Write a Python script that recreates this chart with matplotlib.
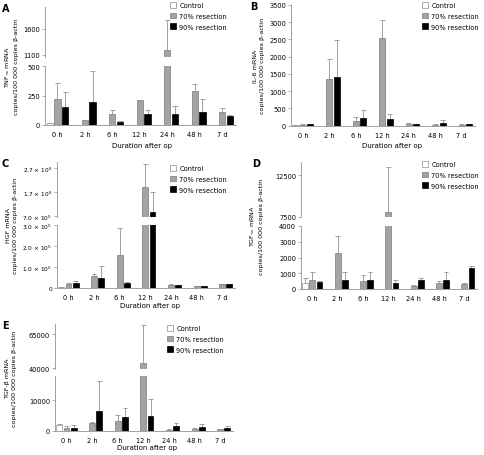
import numpy as np
import matplotlib
matplotlib.use("Agg")
import matplotlib.pyplot as plt
from matplotlib.patches import Patch

plt.rcParams["font.family"] = "DejaVu Sans"

times = ["0 h", "2 h", "6 h", "12 h", "24 h", "48 h", "7 d"]
legend_labels = ["Control", "70% resection", "90% resection"]

# A - TNF-alpha
tnf_ctrl = [14, 0, 0, 0, 0, 0, 0]
tnf_ctrl_err = [4, 0, 0, 0, 0, 0, 0]
tnf_70 = [220, 42, 96, 212, 1200, 291, 108]
tnf_70_err = [133, 0, 34, 0, 580, 56, 33]
tnf_90 = [155, 192, 28, 96, 93, 108, 74]
tnf_90_err = [122, 268, 8, 31, 65, 112, 13]

# B - IL-6
il6_ctrl = [20, 0, 0, 0, 0, 0, 0]
il6_ctrl_err = [8, 0, 0, 0, 0, 0, 0]
il6_70 = [20, 1344, 135, 2543, 58, 29, 29]
il6_70_err = [10, 580, 107, 522, 10, 20, 19]
il6_90 = [40, 1411, 222, 184, 48, 87, 39]
il6_90_err = [8, 1084, 232, 154, 8, 68, 8]

# C - HGF
hgf_ctrl = [4700, 0, 0, 0, 0, 0, 0]
hgf_ctrl_err = [1000, 0, 0, 0, 0, 0, 0]
hgf_70 = [20000, 56600, 158000, 1930000, 15500, 7500, 17000]
hgf_70_err = [3000, 10400, 130000, 950000, 2000, 1500, 2000]
hgf_90 = [22000, 47000, 23600, 870000, 12000, 9000, 17000]
hgf_90_err = [9000, 60000, 3000, 830000, 1500, 1500, 2000]

# D - TGF-alpha
tgfa_ctrl = [383, 0, 0, 0, 0, 0, 0]
tgfa_ctrl_err = [298, 0, 0, 0, 0, 0, 0]
tgfa_70 = [596, 2255, 532, 8100, 170, 383, 319]
tgfa_70_err = [510, 1107, 362, 5400, 85, 149, 64]
tgfa_90 = [468, 574, 596, 362, 574, 596, 1319]
tgfa_90_err = [64, 532, 510, 234, 106, 510, 170]

# E - TGF-beta
tgfb_ctrl = [1809, 0, 0, 0, 0, 0, 0]
tgfb_ctrl_err = [319, 0, 0, 0, 0, 0, 0]
tgfb_70 = [1064, 2553, 3404, 43600, 210, 525, 525]
tgfb_70_err = [532, 319, 1915, 28000, 420, 300, 200]
tgfb_90 = [957, 6596, 4468, 4787, 1470, 1260, 1050]
tgfb_90_err = [852, 9574, 2872, 5532, 1260, 945, 420]

W, H = 484, 456
AXIS_GRAY = "#a0a0a0"
BAR_W = 0.23
OFFS = 0.28
FS = 4.8


def px_box(left, right, top, bottom):
    # pixel box -> figure fraction rect
    return [left / W, 1 - bottom / H, (right - left) / W, (bottom - top) / H]


def draw_bars(ax, series):
    x = np.arange(len(times))
    styles = [("white", "#8c8c8c"), ("#a3a3a3", "#7a7a7a"), ("black", "black")]
    for i, (vals, errs) in enumerate(series):
        vals = np.array(vals, dtype=float)
        errs = np.array(errs, dtype=float)
        xs = x + (i - 1) * OFFS
        fc, ec = styles[i]
        m = vals > 0
        ax.bar(xs[m], vals[m], width=BAR_W, color=fc, edgecolor=ec, linewidth=0.5, zorder=2)
        e = m & (errs > 0)
        ax.vlines(xs[e], vals[e], vals[e] + errs[e], color=AXIS_GRAY, linewidth=0.7, zorder=1)
        ax.hlines(vals[e] + errs[e], xs[e] - BAR_W * 0.4, xs[e] + BAR_W * 0.4,
                  color=AXIS_GRAY, linewidth=0.7, zorder=1)


def style_axis(ax, show_bottom, tick_fs):
    for s in ["top", "right"]:
        ax.spines[s].set_visible(False)
    ax.spines["left"].set_color(AXIS_GRAY)
    ax.spines["left"].set_linewidth(0.7)
    ax.spines["bottom"].set_color(AXIS_GRAY)
    ax.spines["bottom"].set_linewidth(0.7)
    ax.spines["bottom"].set_visible(show_bottom)
    ax.tick_params(axis="y", length=2, width=0.6, color=AXIS_GRAY, labelsize=tick_fs, pad=1.5)
    ax.set_xlim(-0.45, 6.5)
    ax.set_xticks(range(len(times)))
    if show_bottom:
        ax.set_xticklabels(times, fontsize=FS)
        ax.tick_params(axis="x", length=0, pad=4.5)
    else:
        ax.tick_params(axis="x", length=0, labelbottom=False)


def make_panel(fig, letter, lr, lower_tb, lower_lim, lower_ticks, lower_labels,
               series, ylabel, label_x, ylabel_x, legend_xy, xlabel_xy=None,
               upper_tb=None, upper_lim=None, upper_ticks=None, upper_labels=None,
               tick_fs=FS):
    left, right = lr
    ax_lo = fig.add_axes(px_box(left, right, lower_tb[0], lower_tb[1]))
    draw_bars(ax_lo, series)
    style_axis(ax_lo, True, tick_fs)
    ax_lo.set_ylim(*lower_lim)
    ax_lo.set_yticks(lower_ticks)
    ax_lo.set_yticklabels(lower_labels)
    top = lower_tb[0]
    if upper_tb is not None:
        ax_hi = fig.add_axes(px_box(left, right, upper_tb[0], upper_tb[1]))
        draw_bars(ax_hi, series)
        style_axis(ax_hi, False, tick_fs)
        ax_hi.set_ylim(*upper_lim)
        ax_hi.set_yticks(upper_ticks)
        ax_hi.set_yticklabels(upper_labels)
        top = upper_tb[0]

    # panel letter
    fig.text(label_x / W, 1 - (top + 1) / H, letter, fontsize=7, fontweight="bold",
             ha="left", va="center")
    # two line y label
    mid = (top + lower_tb[1]) / 2
    fig.text(ylabel_x / W, 1 - mid / H, ylabel, rotation=90, fontsize=4.6,
             ha="center", va="center", linespacing=1.5)
    if xlabel_xy is not None:
        fig.text(xlabel_xy[0] / W, 1 - xlabel_xy[1] / H, "Duration after op",
                 fontsize=5, ha="center", va="center")
    handles = [Patch(facecolor="white", edgecolor="#8c8c8c", linewidth=0.5),
               Patch(facecolor="#a3a3a3", edgecolor="#7a7a7a", linewidth=0.5),
               Patch(facecolor="black", edgecolor="black", linewidth=0.5)]
    fig.legend(handles, legend_labels, loc="upper left",
               bbox_to_anchor=(legend_xy[0] / W, 1 - legend_xy[1] / H),
               frameon=False, fontsize=FS, handlelength=0.9, handleheight=0.9,
               handletextpad=0.5, labelspacing=0.7, borderpad=0, borderaxespad=0)


fig = plt.figure(figsize=(W / 100, H / 100), dpi=100)

# A
make_panel(fig, "A", (45, 236), (67, 126), (0, 500), [0, 250, 500], ["0", "250", "500"],
           [(tnf_ctrl, tnf_ctrl_err), (tnf_70, tnf_70_err), (tnf_90, tnf_90_err)],
           "TNF-$_\\alpha$ mRNA\ncopies/100 000 copies β-actin", 2, 11, (170, 3), (142, 146),
           upper_tb=(8, 58), upper_lim=(1060, 2020), upper_ticks=[1100, 1600],
           upper_labels=["1100", "1600"])

# B
make_panel(fig, "B", (291, 475), (6, 126.5), (0, 3500), list(range(0, 3501, 500)),
           [str(v) for v in range(0, 3501, 500)],
           [(il6_ctrl, il6_ctrl_err), (il6_70, il6_70_err), (il6_90, il6_90_err)],
           "IL-6 mRNA\ncopies/100 000 copies β-actin", 250, 259, (422, 3), (392, 146))

# C
make_panel(fig, "C", (57, 235), (226, 289), (0, 300000), [0, 100000, 200000, 300000],
           ["0", "1.0 × 10$^5$", "2.0 × 10$^5$", "3.0 × 10$^5$"],
           [(hgf_ctrl, hgf_ctrl_err), (hgf_70, hgf_70_err), (hgf_90, hgf_90_err)],
           "HGF mRNA\ncopies/100 000 copies β-actin", 2, 12, (170, 166), (150, 306),
           upper_tb=(163, 218), upper_lim=(650000, 2970000),
           upper_ticks=[700000, 1700000, 2700000],
           upper_labels=["7.0 × 10$^5$", "1.7 × 10$^6$", "2.7 × 10$^6$"], tick_fs=4.2)

# D
make_panel(fig, "D", (301, 477), (227, 290), (0, 4000), [0, 1000, 2000, 3000, 4000],
           ["0", "1000", "2000", "3000", "4000"],
           [(tgfa_ctrl, tgfa_ctrl_err), (tgfa_70, tgfa_70_err), (tgfa_90, tgfa_90_err)],
           "TGF-$_\\alpha$ mRNA\ncopies/100 000 copies β-actin", 252, 256, (422, 162),
           upper_tb=(163, 218), upper_lim=(7500, 14100), upper_ticks=[7500, 12500],
           upper_labels=["7500", "12500"])

# E
make_panel(fig, "E", (55, 233), (377, 432), (0, 17900), [0, 10000], ["0", "10000"],
           [(tgfb_ctrl, tgfb_ctrl_err), (tgfb_70, tgfb_70_err), (tgfb_90, tgfb_90_err)],
           "TGF-β mRNA\ncopies/100 000 copies β-actin", 2, 11, (167, 326), (147, 448),
           upper_tb=(325, 370), upper_lim=(39500, 72300), upper_ticks=[40000, 65000],
           upper_labels=["40000", "65000"])

fig.savefig("out.png", dpi=100)
